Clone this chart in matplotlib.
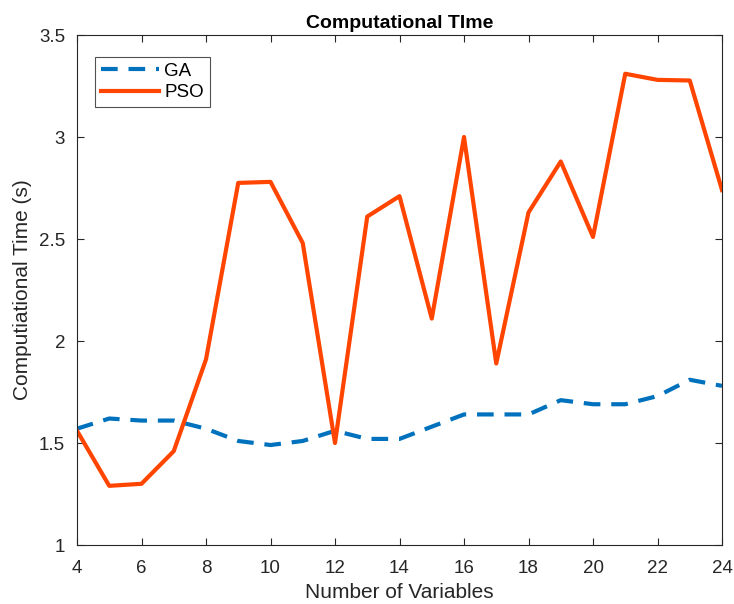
import matplotlib
matplotlib.use("Agg")
import matplotlib.pyplot as plt

variables = list(range(4, 25))
ga_time = [1.57, 1.62, 1.61, 1.61, 1.57, 1.51, 1.49, 1.51, 1.56, 1.52, 1.52,
           1.58, 1.64, 1.64, 1.64, 1.71, 1.69, 1.69, 1.73, 1.81, 1.78]
pso_time = [1.56, 1.29, 1.30, 1.46, 1.91, 2.775, 2.78, 2.48, 1.50, 2.61, 2.71,
            2.11, 3.00, 1.89, 2.63, 2.88, 2.51, 3.31, 3.28, 3.277, 2.74]

plt.rcParams['font.family'] = ['Liberation Sans', 'DejaVu Sans']

fig = plt.figure(figsize=(7.34, 6.04), dpi=100)
ax = fig.add_axes([77/734, 1 - 545/604, (722 - 77)/734, (545 - 35)/604])

ax.plot(variables, ga_time, color='#0072BD', linewidth=3, linestyle='--',
        dashes=(4, 2.6), label='GA')
ax.plot(variables, pso_time, color='#FF4500', linewidth=3, label='PSO')

ax.set_xlim(4, 24)
ax.set_ylim(1, 3.5)
ax.set_xticks(range(4, 25, 2))
ax.set_yticks([1, 1.5, 2, 2.5, 3, 3.5])
ax.set_yticklabels(['1', '1.5', '2', '2.5', '3', '3.5'])

for s in ax.spines.values():
    s.set_color('#262626')
    s.set_linewidth(0.8)
ax.tick_params(direction='in', top=True, right=True, length=5, width=0.8,
               colors='#262626', labelsize=13.5, labelcolor='#262626')
ax.tick_params(axis='x', pad=11)
ax.tick_params(axis='y', pad=8.5)

ax.set_xlabel('Number of Variables', fontsize=15, color='#262626', labelpad=4)
ax.set_ylabel('Computiational Time (s)', fontsize=15, color='#262626', labelpad=5)
ax.set_title('Computational TIme', fontsize=14, fontweight='bold', pad=5)

leg = ax.legend(loc='upper left', bbox_to_anchor=(0.028, 0.957), fontsize=13.5,
                frameon=True, fancybox=False, handlelength=3.1,
                borderpad=0.3, labelspacing=0.25, handletextpad=0.3,
                borderaxespad=0)
leg.get_frame().set_edgecolor('#262626')
leg.get_frame().set_linewidth(0.8)

fig.savefig('out.png', dpi=100)
